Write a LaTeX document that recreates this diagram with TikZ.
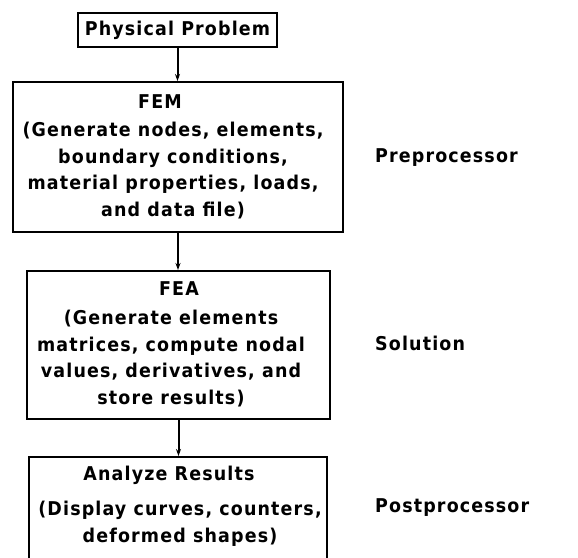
\documentclass[tikz,border=0pt]{standalone}
\usepackage{fontspec}
\newfontfamily\cadfont{DejaVu Sans}[FakeStretch=0.92,LetterSpace=6]
\usetikzlibrary{arrows.meta}
\begin{document}
\begin{tikzpicture}[x=1pt,y=-1pt,
  box/.style={draw,line width=2pt,inner sep=0pt},
  txt/.style={font=\cadfont\bfseries\fontsize{19}{26.8}\selectfont,align=center,inner sep=0pt},
  side/.style={txt,anchor=west},
  arr/.style={line width=2pt,-{Stealth[length=7pt,width=5pt]}}]
\clip (0,0) rectangle (578,557);
\fill[white] (0,0) rectangle (578,557);

% boxes of the flow chart
\node[box,txt,minimum width=199pt,minimum height=34pt] (pp) at (177.5,30) {Physical Problem};
\node[box,minimum width=330pt,minimum height=150pt] (fem) at (178,157) {};
\node[box,minimum width=303pt,minimum height=148pt] (fea) at (178.5,345) {};
\node[box,minimum width=298pt,minimum height=104pt] (ana) at (178,509) {};

% box contents
\node[txt] (fem-title) at (160,102) {FEM};
\node[txt] (fem-body) at (173,170.5) {(Generate nodes, elements,\\boundary conditions,\\material properties, loads,\\and data file)};
\node[txt] (fea-title) at (179,289) {FEA};
\node[txt] (fea-body) at (171,358.5) {(Generate elements\\matrices, compute nodal\\values, derivatives, and\\store results)};
\node[txt] (ana-title) at (169,475) {Analyze Results};
\node[txt] (ana-body) at (180,523.5) {(Display curves, counters,\\deformed shapes)};

% stage labels
\node[side] (pre) at (375,158) {Preprocessor};
\node[side] (sol) at (375,343) {Solution};
\node[side] (post) at (375,508) {Postprocessor};

% connectors
\draw[arr] (pp.south) -- (pp.south |- fem.north);
\draw[arr] (fem.south) -- (fem.south |- fea.north);
\draw[arr] (fea.south) -- (fea.south |- ana.north);
\end{tikzpicture}
\end{document}
